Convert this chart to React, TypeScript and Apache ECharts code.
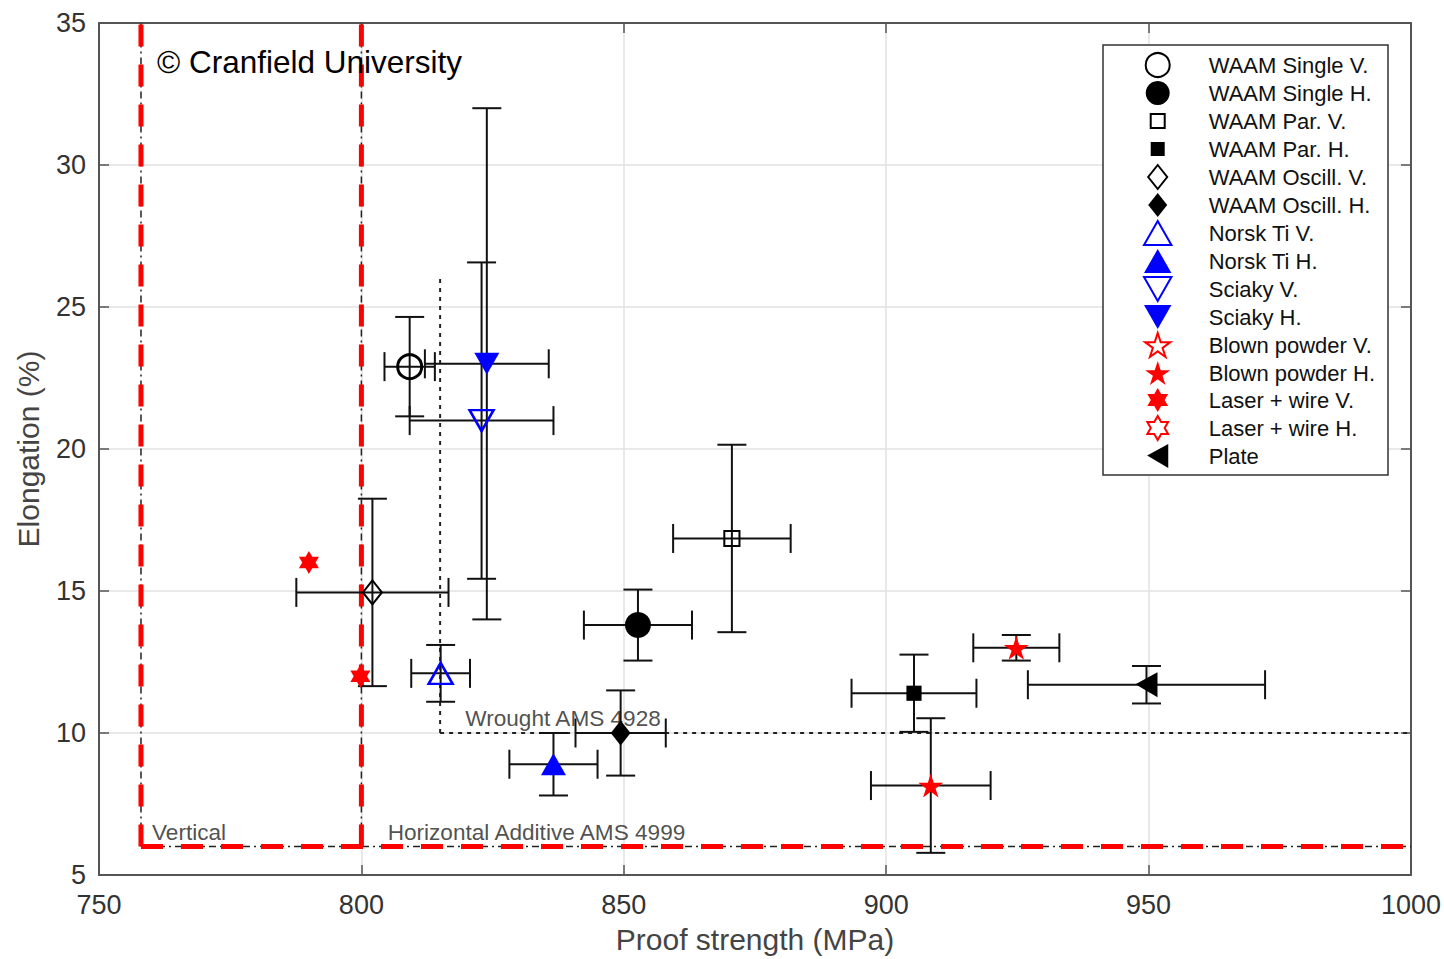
import React, { useEffect, useRef } from "react";
import * as echarts from "echarts";

// ---------- data ----------
// each point: [proof strength (MPa), elongation (%), ± strength, ± elongation]
const waamSingleV = [[809.2, 22.9, 4.8, 1.75]];
const waamSingleH = [[852.7, 13.8, 10.3, 1.25]];
const waamParV = [[870.6, 16.85, 11.2, 3.3]];
const waamParH = [[905.3, 11.4, 11.9, 1.36]];
const waamOscV = [[802.1, 14.95, 14.5, 3.3]];
const waamOscH = [[849.4, 10.0, 8.6, 1.5]];
const norskV = [[815.1, 12.1, 5.6, 1.0]];
const norskH = [[836.6, 8.9, 8.4, 1.1]];
const sciakyV = [[822.9, 21.0, 13.7, 5.57]];
const sciakyH = [[823.9, 23.0, 11.8, 9.0]];
const blownV: number[][] = [];
const blownH = [
  [908.5, 8.15, 11.4, 2.37],
  [924.8, 13.0, 8.2, 0.45],
];
const laserV = [
  [790.0, 16.0, 0, 0],
  [799.8, 12.0, 0, 0],
];
const laserH: number[][] = [];
const plate = [[949.6, 11.7, 22.6, 0.66]];

// reference limits
const verticalLimit = [[758, 6], [758, 35]];
const horizontalLimitV = [[800, 6], [800, 35]];
const additiveFloor = [[758, 6], [1000, 6]];
const wroughtStrength = [[815, 10], [815, 26]];
const wroughtElong = [[815, 10], [1000, 10]];

const annotations = [
  { name: "Vertical", value: [760.1, 6.5] },
  { name: "Horizontal Additive AMS 4999", value: [805.0, 6.5] },
  { name: "Wrought AMS 4928", value: [819.8, 10.5] },
];

// axes
const xMin = 750, xMax = 1000, xStep = 50;
const yMin = 5, yMax = 35, yStep = 5;

// ---------- symbols ----------
const SQUARE = "path://M0 0M24 24M5 5L19 5L19 19L5 19Z";
const DIAMOND = "path://M0 0M24 24M12 0L21.5 12L12 24L2.5 12Z";
const TRI_UP = "path://M12 0L24 21L0 21Z";
const TRI_DOWN = "path://M0 0L24 0L12 21Z";
const TRI_LEFT = "path://M0 12L22 0L22 25Z";
const STAR5 =
  "path://M12 0L14.69 8.29L23.41 8.29L16.36 13.42L19.05 21.71L12 16.58L4.95 21.71L7.64 13.42L0.59 8.29L9.31 8.29Z";
const HEXA =
  "path://M12 0L15.46 6L22.39 6L18.93 12L22.39 18L15.46 18L12 24L8.54 18L1.61 18L5.07 12L1.61 6L8.54 6Z";

const FONT = "Liberation Sans, Arial, Helvetica, sans-serif";
const NONE = "rgba(0,0,0,0)";

type Def = {
  name: string;
  data: number[][];
  symbol: string;
  size: number | number[];
  fill: string;
  stroke: string;
  bw: number;
};

const defs: Def[] = [
  { name: "WAAM Single V.", data: waamSingleV, symbol: "circle", size: 24, fill: NONE, stroke: "#000", bw: 3 },
  { name: "WAAM Single H.", data: waamSingleH, symbol: "circle", size: 26, fill: "#000", stroke: "#000", bw: 0 },
  { name: "WAAM Par. V.", data: waamParV, symbol: SQUARE, size: 26, fill: NONE, stroke: "#000", bw: 2 },
  { name: "WAAM Par. H.", data: waamParH, symbol: SQUARE, size: 26, fill: "#000", stroke: "#000", bw: 0 },
  { name: "WAAM Oscill. V.", data: waamOscV, symbol: DIAMOND, size: 24, fill: NONE, stroke: "#000", bw: 2 },
  { name: "WAAM Oscill. H.", data: waamOscH, symbol: DIAMOND, size: 25, fill: "#000", stroke: "#000", bw: 0 },
  { name: "Norsk Ti V.", data: norskV, symbol: TRI_UP, size: [24, 21], fill: NONE, stroke: "#0000ff", bw: 2.5 },
  { name: "Norsk Ti H.", data: norskH, symbol: TRI_UP, size: [25, 22], fill: "#0000ff", stroke: "#0000ff", bw: 0 },
  { name: "Sciaky V.", data: sciakyV, symbol: TRI_DOWN, size: [24, 21], fill: NONE, stroke: "#0000ff", bw: 2.5 },
  { name: "Sciaky H.", data: sciakyH, symbol: TRI_DOWN, size: [25, 22], fill: "#0000ff", stroke: "#0000ff", bw: 0 },
  { name: "Blown powder V.", data: blownV, symbol: STAR5, size: [24, 23], fill: NONE, stroke: "#ff0000", bw: 1.5 },
  { name: "Blown powder H.", data: blownH, symbol: STAR5, size: [25, 24], fill: "#ff0000", stroke: "#ff0000", bw: 0 },
  { name: "Laser + wire V.", data: laserV, symbol: HEXA, size: [20, 23], fill: "#ff0000", stroke: "#ff0000", bw: 0 },
  { name: "Laser + wire H.", data: laserH, symbol: HEXA, size: [20, 23], fill: NONE, stroke: "#ff0000", bw: 1.5 },
  { name: "Plate", data: plate, symbol: TRI_LEFT, size: [22, 25], fill: "#000", stroke: "#000", bw: 0 },
];

const errorData = defs
  .flatMap((d) => d.data)
  .filter((p) => p[2] > 0 || p[3] > 0);

function lineSeries(data: number[][], color: string, width: number, dash: number[], z: number) {
  return {
    type: "line",
    data,
    symbol: "none",
    silent: true,
    z,
    lineStyle: { color, width, type: dash, cap: "butt" },
    xAxisIndex: 0,
    yAxisIndex: 0,
  };
}

export default function App() {
  const ref = useRef<HTMLDivElement>(null);

  useEffect(() => {
    if (!ref.current) return;
    const chart = echarts.init(ref.current, null, { renderer: "svg" });

    const scatterSeries = defs.map((d) => ({
      type: "scatter",
      name: d.name,
      data: d.data.map((p) => [p[0], p[1]]),
      symbol: d.symbol,
      symbolSize: d.size,
      z: 5,
      itemStyle: {
        color: d.fill,
        borderColor: d.stroke,
        borderWidth: d.bw,
        opacity: 1,
      },
      emphasis: { disabled: true },
    }));

    const errorSeries = {
      type: "custom",
      name: "errors",
      data: errorData,
      encode: { x: 0, y: 1 },
      z: 4,
      silent: true,
      renderItem: (_params: any, api: any) => {
        const x = api.value(0);
        const y = api.value(1);
        const xe = api.value(2);
        const ye = api.value(3);
        const c = api.coord([x, y]);
        const style = { stroke: "#111", lineWidth: 2 };
        const cap = 14.5;
        const children: any[] = [];
        const ln = (x1: number, y1: number, x2: number, y2: number) =>
          children.push({ type: "line", shape: { x1, y1, x2, y2 }, style });
        if (xe > 0) {
          const l = api.coord([x - xe, y]);
          const r = api.coord([x + xe, y]);
          ln(l[0], c[1], r[0], c[1]);
          ln(l[0], c[1] - cap, l[0], c[1] + cap);
          ln(r[0], c[1] - cap, r[0], c[1] + cap);
        }
        if (ye > 0) {
          const t = api.coord([x, y + ye]);
          const b = api.coord([x, y - ye]);
          ln(c[0], t[1], c[0], b[1]);
          ln(c[0] - cap, t[1], c[0] + cap, t[1]);
          ln(c[0] - cap, b[1], c[0] + cap, b[1]);
        }
        return { type: "group", children };
      },
    };

    const annotationSeries = {
      type: "scatter",
      name: "annotations",
      data: annotations,
      symbolSize: 0,
      silent: true,
      z: 3,
      label: {
        show: true,
        position: "right",
        distance: 0,
        formatter: (p: any) => p.name,
        fontSize: 22.6,
        color: "#222",
        fontFamily: FONT,
      },
    };

    const axisCommonX = {
      type: "value",
      min: xMin,
      max: xMax,
      interval: xStep,
      axisLine: { show: true, onZero: false, lineStyle: { color: "#555", width: 2 } },
      axisTick: { show: true, inside: true, length: 10, lineStyle: { color: "#555", width: 1.5 } },
    };
    const axisCommonY = {
      type: "value",
      min: yMin,
      max: yMax,
      interval: yStep,
      axisLine: { show: true, onZero: false, lineStyle: { color: "#555", width: 2 } },
      axisTick: { show: true, inside: true, length: 10, lineStyle: { color: "#555", width: 1.5 } },
    };

    chart.setOption({
      animation: false,
      backgroundColor: "#fff",
      textStyle: { fontFamily: FONT },
      grid: { left: 99, right: 33, top: 23, bottom: 78, containLabel: false },
      xAxis: [
        {
          ...axisCommonX,
          position: "bottom",
          name: "Proof strength (MPa)",
          nameLocation: "middle",
          nameGap: 49,
          nameTextStyle: { fontSize: 30, color: "#444", fontFamily: FONT },
          axisLabel: {
            fontSize: 27,
            color: "#333",
            margin: 16,
            fontFamily: FONT,
            formatter: (v: number) => String(v),
          },
          splitLine: { show: true, lineStyle: { color: "#e2e2e2", width: 1.5 } },
        },
        {
          ...axisCommonX,
          position: "top",
          axisLabel: { show: false },
          splitLine: { show: false },
        },
      ],
      yAxis: [
        {
          ...axisCommonY,
          position: "left",
          name: "Elongation (%)",
          nameLocation: "middle",
          nameGap: 56,
          nameTextStyle: { fontSize: 30, color: "#444", fontFamily: FONT },
          axisLabel: { fontSize: 27, color: "#333", margin: 13, fontFamily: FONT },
          splitLine: { show: true, lineStyle: { color: "#e2e2e2", width: 1.5 } },
        },
        {
          ...axisCommonY,
          position: "right",
          axisLabel: { show: false },
          splitLine: { show: false },
        },
      ],
      legend: {
        orient: "vertical",
        left: 1103,
        top: 45,
        itemWidth: 92,
        itemHeight: 24,
        itemGap: 3,
        padding: [7, 13, 7, 40],
        borderColor: "#333",
        borderWidth: 1.5,
        backgroundColor: "#fff",
        selectedMode: false,
        textStyle: { fontSize: 22, color: "#111", fontFamily: FONT },
        data: defs.map((d) => d.name),
      },
      graphic: [
        {
          type: "text",
          left: 157,
          top: 46,
          z: 10,
          style: {
            text: "© Cranfield University",
            fontSize: 31.5,
            fontFamily: FONT,
            fill: "#000",
          },
        },
      ],
      series: [
        lineSeries(wroughtStrength, "#222", 2, [4, 5], 1),
        lineSeries(wroughtElong, "#222", 2, [4, 5], 1),
        lineSeries(verticalLimit, "#222", 1.5, [7, 4, 2, 4], 1),
        lineSeries(horizontalLimitV, "#222", 1.5, [7, 4, 2, 4], 1),
        lineSeries(additiveFloor, "#222", 1.5, [7, 4, 2, 4], 1),
        lineSeries(verticalLimit, "#ff0000", 5, [22, 18], 2),
        lineSeries(horizontalLimitV, "#ff0000", 5, [22, 18], 2),
        lineSeries(additiveFloor, "#ff0000", 5, [22, 18], 2),
        annotationSeries,
        errorSeries,
        ...scatterSeries,
      ],
    });

    return () => chart.dispose();
  }, []);

  return (
    <div
      ref={ref}
      style={{ position: "absolute", left: 0, top: 0, width: 1444, height: 959 }}
    />
  );
}
